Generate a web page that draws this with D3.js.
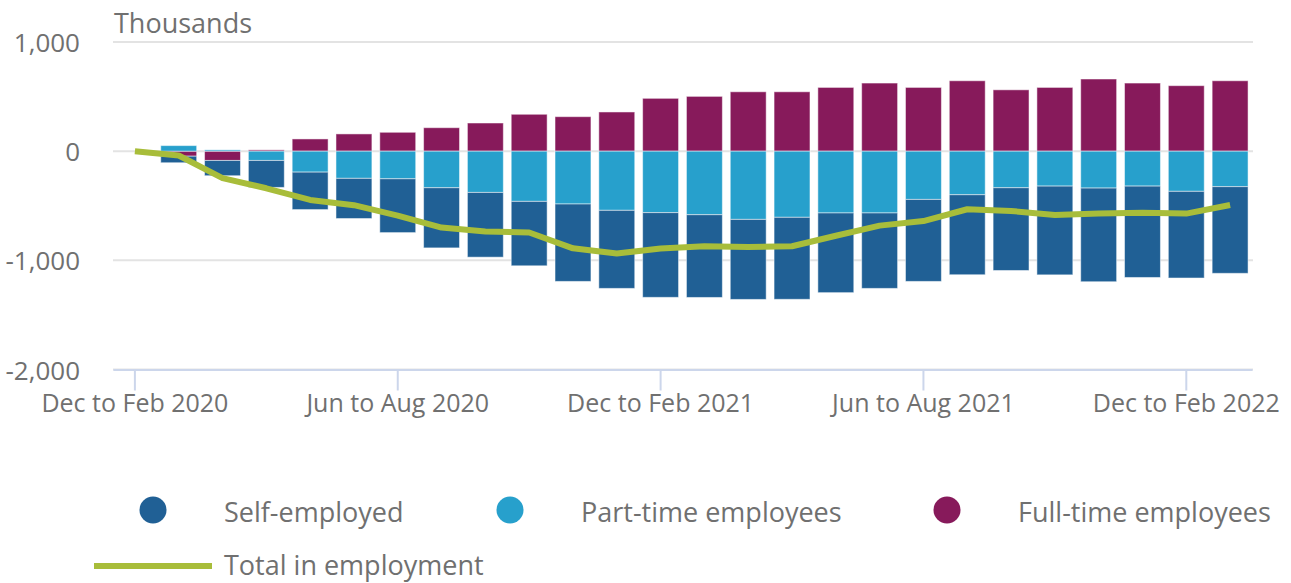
<!DOCTYPE html>
<html>
<head>
<meta charset="utf-8">
<script src="https://cdn.jsdelivr.net/npm/d3@7"></script>
<style>
  body { margin: 0; background: #fff; }
  text { font-family: "Open Sans", sans-serif; fill: #707070; }
</style>
</head>
<body>
<svg id="chart"></svg>
<script>
// Rolling three-month periods
const periods = [
  "Dec to Feb 2020", "Jan to Mar 2020", "Feb to Apr 2020", "Mar to May 2020",
  "Apr to Jun 2020", "May to Jul 2020", "Jun to Aug 2020", "Jul to Sep 2020",
  "Aug to Oct 2020", "Sep to Nov 2020", "Oct to Dec 2020", "Nov to Jan 2021",
  "Dec to Feb 2021", "Jan to Mar 2021", "Feb to Apr 2021", "Mar to May 2021",
  "Apr to Jun 2021", "May to Jul 2021", "Jun to Aug 2021", "Jul to Sep 2021",
  "Aug to Oct 2021", "Sep to Nov 2021", "Oct to Dec 2021", "Nov to Jan 2022",
  "Dec to Feb 2022", "Jan to Mar 2022"
]

// Change since Dec to Feb 2020, thousands
const selfEmployed = [0, -60, -140, -247, -343, -368, -493, -551, -593, -590, -709, -715, -776,
  -758, -733, -751, -730, -691, -751, -733, -758, -813, -858, -837, -794, -794]
const partTime = [0, 51, 12, -85, -192, -249, -253, -335, -378, -460, -484, -542, -563,
  -582, -625, -606, -566, -566, -442, -399, -335, -320, -338, -320, -368, -325]
const fullTime = [0, -46, -85, 12, 112, 158, 173, 215, 258, 338, 316, 359, 484,
  502, 544, 544, 584, 624, 584, 645, 562, 584, 661, 624, 600, 645]
const totalEmployment = [0, -40, -247, -340, -447, -495, -590, -700, -735, -745, -890, -938, -892,
  -871, -877, -871, -775, -682, -640, -532, -548, -584, -572, -565, -572, -493]

const yTicks = [-2000, -1000, 0, 1000]
const xTickLabels = ["Dec to Feb 2020", "Jun to Aug 2020", "Dec to Feb 2021", "Jun to Aug 2021", "Dec to Feb 2022"]

const seriesNames = { se: "Self-employed", pt: "Part-time employees", ft: "Full-time employees" }
const colors = { se: "#206095", pt: "#27a0cc", ft: "#871a5b", total: "#a8bd3a" }

let svgWidth = 1291, svgHeight = 583

let svg = d3.select("#chart")
  .attr("width", svgWidth)
  .attr("height", svgHeight)

let rows = periods.map(function(p, i) {
  return { period: p, se: selfEmployed[i], pt: partTime[i], ft: fullTime[i], total: totalEmployment[i] }
})

let x = d3.scaleBand()
  .domain(periods)
  .range([113, 1252])
  .paddingInner(0.18)
  .paddingOuter(0.09)

let y = d3.scaleLinear()
  .domain([-2000, 1000])
  .range([369.5, 42])

let fmt = d3.formatLocale({ decimal: ".", thousands: ",", grouping: [3], currency: ["", ""], minus: "-" }).format(",")

// gridlines and y labels
let grid = svg.append("g")
grid.selectAll("line")
  .data(yTicks)
  .join("line")
  .attr("x1", 113)
  .attr("x2", 1253)
  .attr("y1", d => y(d))
  .attr("y2", d => y(d))
  .attr("stroke", "#e3e3e3")
  .attr("stroke-width", 2)

grid.selectAll("text")
  .data(yTicks)
  .join("text")
  .attr("x", 80)
  .attr("y", d => y(d) + 1)
  .attr("dy", "0.35em")
  .attr("text-anchor", "end")
  .style("font-size", "26px")
  .text(d => fmt(d))

svg.append("text")
  .attr("x", 114)
  .attr("y", 33)
  .style("font-size", "27px")
  .text("Thousands")

// x axis
let xAxis = svg.append("g")
  .attr("transform", "translate(0," + y(-2000) + ")")
  .call(d3.axisBottom(x).tickValues(xTickLabels).tickSize(21).tickSizeOuter(0).tickPadding(4))

xAxis.select(".domain").attr("stroke", "#ccd6eb").attr("stroke-width", 2)
xAxis.selectAll(".tick line").attr("stroke", "#ccd6eb").attr("stroke-width", 2)
xAxis.selectAll(".tick text")
  .attr("fill", "#707070")
  .style("font-size", "25px")
  .style("font-family", "'Open Sans', sans-serif")

// stacked bars, full-time nearest zero
let stack = d3.stack()
  .keys(["ft", "pt", "se"])
  .offset(d3.stackOffsetDiverging)
let stacked = stack(rows)

svg.append("g")
  .selectAll("g")
  .data(stacked)
  .join("g")
  .attr("fill", d => colors[d.key])
  .selectAll("rect")
  .data(d => d)
  .join("rect")
  .attr("x", d => x(d.data.period))
  .attr("width", x.bandwidth())
  .attr("y", d => y(Math.max(d[0], d[1])))
  .attr("height", d => Math.abs(y(d[0]) - y(d[1])))
  .attr("stroke", "#fff")
  .attr("stroke-opacity", 0.5)
  .attr("stroke-width", 1)

// total in employment line
let line = d3.line()
  .x(d => x(d.period) + x.bandwidth() / 2)
  .y(d => y(d.total))

svg.append("path")
  .datum(rows)
  .attr("fill", "none")
  .attr("stroke", colors.total)
  .attr("stroke-width", 6)
  .attr("stroke-linejoin", "round")
  .attr("d", line)

// legend
let legendItems = [
  { key: "se", cx: 153, tx: 224 },
  { key: "pt", cx: 510, tx: 581 },
  { key: "ft", cx: 947, tx: 1018 }
]

let legend = svg.append("g")
legend.selectAll("circle")
  .data(legendItems)
  .join("circle")
  .attr("cx", d => d.cx)
  .attr("cy", 510)
  .attr("r", 13.5)
  .attr("fill", d => colors[d.key])

legend.selectAll("text.item")
  .data(legendItems)
  .join("text")
  .attr("class", "item")
  .attr("x", d => d.tx)
  .attr("y", 522)
  .style("font-size", "27px")
  .text(d => seriesNames[d.key])

legend.append("line")
  .attr("x1", 94)
  .attr("x2", 212)
  .attr("y1", 566)
  .attr("y2", 566)
  .attr("stroke", colors.total)
  .attr("stroke-width", 6)

legend.append("text")
  .attr("x", 224)
  .attr("y", 575)
  .style("font-size", "27px")
  .text("Total in employment")
</script>
</body>
</html>
